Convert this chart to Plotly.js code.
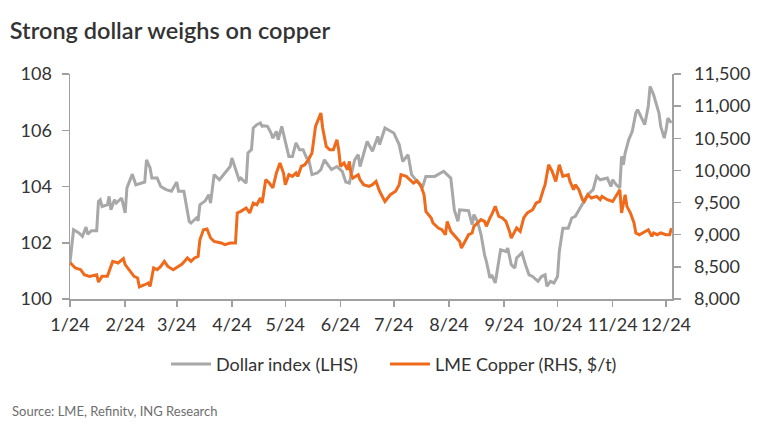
<!DOCTYPE html>
<html>
<head>
<meta charset="utf-8">
<script src="https://cdn.plot.ly/plotly-3.0.1.min.js"></script>
<style>html,body{margin:0;padding:0;background:#fff;}#chart{width:757px;height:437px;}</style>
</head>
<body>
<div id="chart"></div>
<script>
// Dollar index (LHS)
const dxyDates = ["2024-01-01","2024-01-03","2024-01-06","2024-01-08","2024-01-10","2024-01-11","2024-01-13","2024-01-16","2024-01-17","2024-01-18","2024-01-19","2024-01-22","2024-01-23","2024-01-24","2024-01-26","2024-01-27","2024-01-30",
"2024-02-01","2024-02-02","2024-02-05","2024-02-07","2024-02-10","2024-02-12","2024-02-13","2024-02-15","2024-02-16","2024-02-19","2024-02-21","2024-02-24","2024-02-27",
"2024-03-01","2024-03-02","2024-03-05","2024-03-06","2024-03-08","2024-03-09","2024-03-12","2024-03-13","2024-03-14","2024-03-17","2024-03-19","2024-03-20","2024-03-22","2024-03-25","2024-03-28","2024-03-31",
"2024-04-01","2024-04-04","2024-04-05","2024-04-06","2024-04-09","2024-04-10","2024-04-12","2024-04-13","2024-04-15","2024-04-17","2024-04-18","2024-04-19","2024-04-21","2024-04-23","2024-04-24","2024-04-26","2024-04-27","2024-04-29",
"2024-05-01","2024-05-03","2024-05-05","2024-05-07","2024-05-09","2024-05-11","2024-05-13","2024-05-14","2024-05-16","2024-05-19","2024-05-21","2024-05-23","2024-05-25","2024-05-27","2024-05-30",
"2024-06-02","2024-06-04","2024-06-06","2024-06-09","2024-06-11","2024-06-12","2024-06-16","2024-06-19","2024-06-22","2024-06-23","2024-06-26",
"2024-07-01","2024-07-04","2024-07-06","2024-07-09","2024-07-11","2024-07-14","2024-07-17","2024-07-19","2024-07-24","2024-07-29",
"2024-08-02","2024-08-04","2024-08-06","2024-08-07","2024-08-12","2024-08-14","2024-08-15","2024-08-17","2024-08-19","2024-08-21","2024-08-22","2024-08-24","2024-08-25","2024-08-27","2024-08-29","2024-08-30",
"2024-09-02","2024-09-03","2024-09-05","2024-09-07","2024-09-08","2024-09-11","2024-09-13","2024-09-15","2024-09-17","2024-09-20","2024-09-22","2024-09-24","2024-09-25","2024-09-27","2024-09-29",
"2024-10-01","2024-10-02","2024-10-04","2024-10-07","2024-10-09","2024-10-11","2024-10-14","2024-10-18","2024-10-21","2024-10-23","2024-10-25","2024-10-29","2024-10-31",
"2024-11-01","2024-11-03","2024-11-05","2024-11-06","2024-11-07","2024-11-08","2024-11-10","2024-11-12","2024-11-14","2024-11-15","2024-11-17","2024-11-19","2024-11-21","2024-11-22","2024-11-24","2024-11-25","2024-11-27","2024-11-28","2024-11-30",
"2024-12-01","2024-12-02","2024-12-04"];
const dxyValues = [101.3,102.46,102.35,102.23,102.56,102.3,102.43,102.43,103.47,103.53,103.29,103.35,103.65,103.17,103.53,103.41,103.59,
103.06,103.95,104.44,104.06,104.12,104.16,104.95,104.66,104.30,104.30,104.0,103.89,103.83,
104.16,103.83,103.83,103.47,102.76,102.70,102.88,102.78,103.35,103.49,103.71,103.41,104.42,104.24,104.48,104.71,
105.01,104.42,104.24,104.30,104.12,105.19,105.31,106.08,106.2,106.26,106.14,106.16,106.14,105.9,105.72,105.96,105.66,106.14,
105.6,105.07,105.07,105.55,105.31,105.31,105.01,105.01,104.42,104.48,104.6,104.95,104.77,104.6,104.71,
104.54,104.16,104.12,104.95,105.13,104.71,105.6,105.25,105.78,105.49,106.08,
105.9,105.49,104.89,105.13,104.42,104.18,103.95,104.36,104.36,104.54,
104.30,103.17,102.76,103.17,103.14,102.64,103.0,102.76,102.29,101.57,101.34,100.75,100.86,100.57,101.34,101.75,
101.69,101.81,101.22,101.1,101.46,101.64,101.22,100.86,100.8,100.63,100.8,100.86,100.45,100.63,100.57,
100.8,101.69,102.52,102.52,102.88,102.94,103.29,103.71,103.89,104.36,104.24,104.30,104.0,
104.24,104.06,103.95,105.07,104.77,105.19,105.66,105.96,106.61,106.73,106.49,106.2,106.85,107.56,107.26,107.02,106.61,106.14,105.72,
106.02,106.43,106.26];

// LME Copper (RHS, $/t)
const cuDates = ["2024-01-01","2024-01-04","2024-01-07","2024-01-09","2024-01-12","2024-01-16","2024-01-17","2024-01-19","2024-01-22","2024-01-25","2024-01-28","2024-01-31",
"2024-02-01","2024-02-04","2024-02-06","2024-02-08","2024-02-09","2024-02-12","2024-02-14","2024-02-15","2024-02-17","2024-02-19","2024-02-21","2024-02-23","2024-02-25","2024-02-28",
"2024-03-02","2024-03-04","2024-03-07","2024-03-09","2024-03-11","2024-03-13","2024-03-14","2024-03-16","2024-03-18","2024-03-20","2024-03-22","2024-03-26","2024-03-28","2024-03-31",
"2024-04-03","2024-04-04","2024-04-06","2024-04-09","2024-04-11","2024-04-13","2024-04-15","2024-04-17","2024-04-18","2024-04-20","2024-04-22","2024-04-24","2024-04-26","2024-04-28","2024-04-30",
"2024-05-01","2024-05-03","2024-05-05","2024-05-07","2024-05-08","2024-05-10","2024-05-12","2024-05-14","2024-05-16","2024-05-18","2024-05-20","2024-05-21","2024-05-22","2024-05-24","2024-05-26","2024-05-28","2024-05-30","2024-05-31",
"2024-06-01","2024-06-03","2024-06-05","2024-06-06","2024-06-07","2024-06-08","2024-06-11","2024-06-12","2024-06-14","2024-06-17","2024-06-19","2024-06-21","2024-06-23","2024-06-24","2024-06-26","2024-06-29",
"2024-07-02","2024-07-04","2024-07-05","2024-07-08","2024-07-10","2024-07-12","2024-07-14","2024-07-16","2024-07-18","2024-07-19","2024-07-22","2024-07-23","2024-07-26","2024-07-28","2024-07-30","2024-07-31",
"2024-08-02","2024-08-05","2024-08-07","2024-08-08","2024-08-10","2024-08-12","2024-08-14","2024-08-15","2024-08-17","2024-08-19","2024-08-21","2024-08-22","2024-08-24","2024-08-25","2024-08-27","2024-08-29","2024-08-31",
"2024-09-02","2024-09-04","2024-09-05","2024-09-07","2024-09-08","2024-09-10","2024-09-12","2024-09-14","2024-09-17","2024-09-19","2024-09-21","2024-09-23","2024-09-24","2024-09-26","2024-09-28","2024-09-30",
"2024-10-02","2024-10-04","2024-10-07","2024-10-08","2024-10-10","2024-10-11","2024-10-13","2024-10-15","2024-10-16","2024-10-18","2024-10-20","2024-10-23","2024-10-25","2024-10-26","2024-10-29",
"2024-11-01","2024-11-04","2024-11-05","2024-11-06","2024-11-08","2024-11-09","2024-11-11","2024-11-13","2024-11-14","2024-11-16","2024-11-19","2024-11-21","2024-11-23","2024-11-24","2024-11-26","2024-11-28",
"2024-12-01","2024-12-03","2024-12-04"];
const cuValues = [8565,8482,8456,8378,8352,8378,8264,8352,8352,8585,8560,8627,
8534,8430,8352,8327,8187,8222,8249,8196,8482,8456,8507,8585,8507,8456,
8507,8544,8638,8585,8638,8663,8922,9078,9089,8949,8896,8871,8845,8871,
8871,9338,9363,9416,9338,9493,9467,9571,9493,9856,9804,9727,9960,10116,9960,
9778,9934,9907,9960,9907,10063,10089,10167,10271,10685,10840,10893,10660,10374,10322,10322,10478,10322,
10063,10116,10011,10141,9934,9882,9934,9856,9778,9752,9778,9829,9675,9622,9518,9622,
9675,9778,9934,9907,9856,9804,9840,9778,9622,9363,9260,9182,9104,9078,9000,9207,
9052,8949,8896,8793,8896,9000,9027,9130,9182,9234,9207,9130,9260,9311,9441,9285,9260,
9207,9052,8949,9052,9104,9052,9260,9338,9389,9493,9518,9700,9778,10089,9985,9829,
10089,9907,9934,9829,9700,9778,9700,9545,9518,9622,9571,9596,9545,9596,9545,
9518,9649,9700,9338,9622,9441,9338,9182,9027,9000,9052,9078,8974,9027,9000,9027,
9000,9000,9104];

// Axis ticks
const monthTicks = ["2024-01-01","2024-02-01","2024-03-01","2024-04-01","2024-05-01","2024-06-01","2024-07-01","2024-08-01","2024-09-01","2024-10-01","2024-11-01","2024-12-01"];
const monthLabels = ["1/24","2/24","3/24","4/24","5/24","6/24","7/24","8/24","9/24","10/24","11/24","12/24"];

const FONT = "Lato, 'Noto Sans', sans-serif";
const axisColor = "#a0a0a0";
const textColor = "#333333";

const traces = [
  {x: dxyDates, y: dxyValues, name: "Dollar index (LHS)", type: "scatter", mode: "lines",
   line: {color: "#a8a8a8", width: 3}, yaxis: "y", legend: "legend"},
  {x: cuDates, y: cuValues, name: "LME Copper (RHS, $/t)", type: "scatter", mode: "lines",
   line: {color: "#f06a1c", width: 3}, yaxis: "y2", legend: "legend2"}
];

const legendBase = {orientation: "h", xanchor: "left", y: -0.29, yanchor: "middle",
                    itemwidth: 40, font: {size: 18, color: textColor}, bgcolor: "rgba(0,0,0,0)"};

const layout = {
  width: 757, height: 437,
  paper_bgcolor: "#ffffff", plot_bgcolor: "#ffffff",
  margin: {l: 70, r: 85, t: 74, b: 138},
  font: {family: FONT, color: textColor, size: 18},
  title: {text: "Strong dollar weighs on copper", x: 0.013, xanchor: "left", xref: "container",
          y: 0.93, yanchor: "middle", yref: "container",
          font: {family: FONT, size: 23.5, weight: 600, color: "#333333"}},
  xaxis: {type: "date", range: ["2024-01-01", "2024-12-04 08:00"],
          tickvals: monthTicks, ticktext: monthLabels,
          showgrid: false, zeroline: false, showline: true, linecolor: axisColor, linewidth: 1.5,
          ticks: "outside", ticklen: 6, tickcolor: axisColor, tickwidth: 1.5,
          tickfont: {size: 18, color: textColor}, ticklabelstandoff: 3},
  yaxis: {range: [100, 108], dtick: 2, tick0: 100,
          showgrid: false, zeroline: false, showline: true, linecolor: axisColor, linewidth: 1.5,
          ticks: "outside", ticklen: 7, tickcolor: axisColor, tickwidth: 1.5,
          tickfont: {size: 18, color: textColor}, ticklabelstandoff: 6},
  yaxis2: {range: [8000, 11500], dtick: 500, tick0: 8000, overlaying: "y", side: "right",
           tickformat: ",d",
           showgrid: false, zeroline: false, showline: true, linecolor: axisColor, linewidth: 1.5,
           ticks: "outside", ticklen: 7, tickcolor: axisColor, tickwidth: 1.5,
           tickfont: {size: 18, color: textColor}, ticklabelstandoff: 10},
  showlegend: true,
  legend: Object.assign({}, legendBase, {x: (166 - 70) / 602}),
  legend2: Object.assign({}, legendBase, {x: (385 - 70) / 602}),
  annotations: [
    {text: "Source: LME, Refinitv, ING Research", xref: "paper", yref: "paper",
     x: -60/602, xanchor: "left", y: -(411-299)/225, yanchor: "middle",
     showarrow: false, font: {size: 13, color: "#6e6e6e", family: FONT}}
  ]
};

Plotly.newPlot("chart", traces, layout, {displayModeBar: false, staticPlot: true});
</script>
</body>
</html>
